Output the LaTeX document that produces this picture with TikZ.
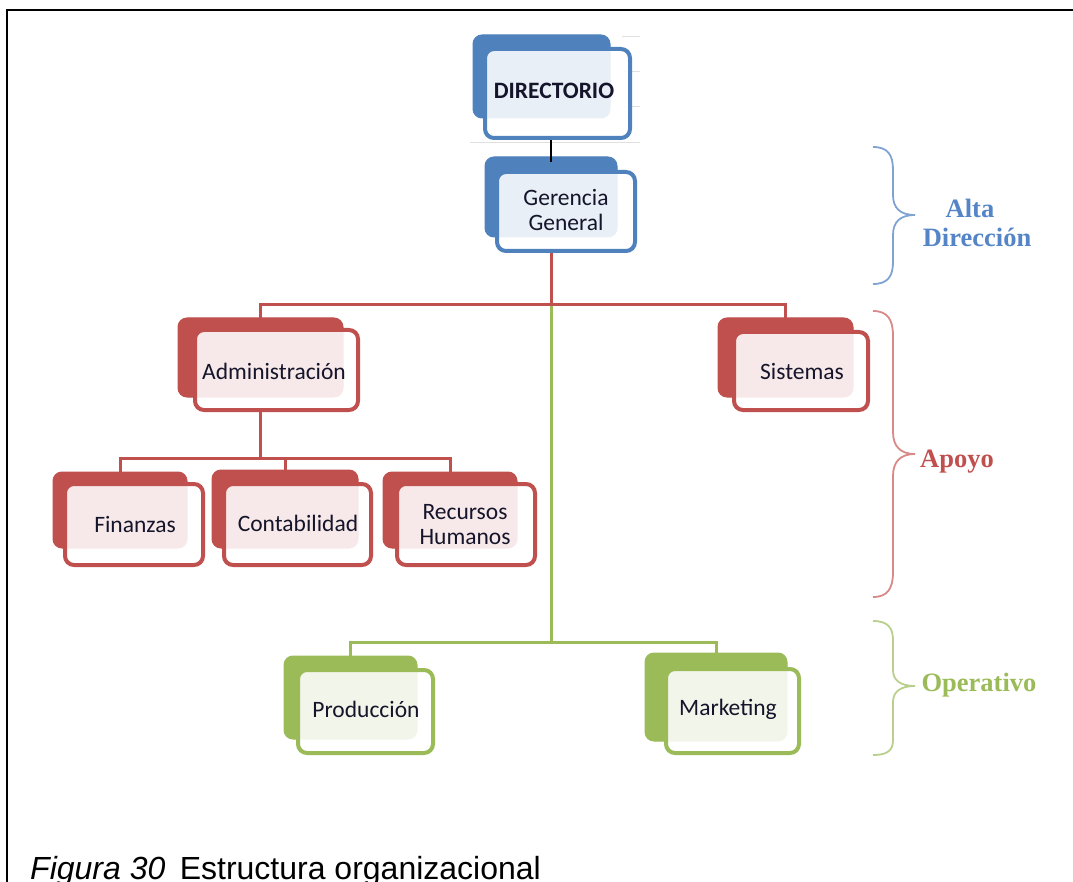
\documentclass[tikz,border=0pt]{standalone}
\usepackage{fontspec}
\setmainfont{Carlito}
\newfontfamily\serifbold{Liberation Serif}
\newfontfamily\capfont{Liberation Sans}
\usetikzlibrary{calc}
\pgfdeclarelayer{background}
\pgfsetlayers{background,main}
\definecolor{oblue}{HTML}{4F81BD}
\definecolor{ored}{HTML}{C0504D}
\definecolor{ogreen}{HTML}{9BBB59}
\definecolor{bblue}{HTML}{7FA3D2}
\definecolor{bred}{HTML}{D98A88}
\definecolor{bgreen}{HTML}{B8D08C}
\definecolor{tblue}{HTML}{5585C6}
\definecolor{txt}{HTML}{14142A}
\tikzset{
  backbox/.style={draw=#1, fill=#1, rounded corners=9pt, line width=1pt, inner sep=0pt},
  frontbox/.style={draw=#1, fill=white, fill opacity=0.88, draw opacity=1, rounded corners=9pt, line width=4pt, inner sep=0pt},
  lbl/.style={font=\fontsize{23.5}{25}\selectfont, text=txt, align=center, inner sep=0pt},
  lblbold/.style={font=\bfseries\fontsize{23.5}{25}\selectfont, text=txt, align=center, inner sep=0pt},
  redline/.style={draw=ored, line width=3pt},
  greenline/.style={draw=ogreen, line width=3pt},
  bracestyle/.style={draw=#1, line width=1.8pt},
  grouplbl/.style={font=\serifbold\bfseries\fontsize{26.5}{29}\selectfont, text=#1, inner sep=0pt, align=center},
  artifact/.style={draw=black!12, line width=1pt}
}
\begin{document}
\begin{tikzpicture}[x=1pt,y=-1pt]
\useasboundingbox (0,0) rectangle (1073,882);
% frame
\draw[line width=2pt] (7,882) -- (7,10) -- (1073,10);
% faint artifacts
\draw[artifact] (622,37) -- (640,37);
\draw[artifact] (622,72) -- (640,72);
\draw[artifact] (622,107) -- (640,107);
\draw[artifact] (470,143) -- (640,143);
% bus coordinates
\coordinate (bus1) at (551,305);
\coordinate (bus2) at (551,642);
\coordinate (bus3) at (260.5,458);
% back boxes
\node[backbox=oblue, minimum width=137pt, minimum height=83pt] (dirB) at (541.5,76.5) {};
\node[backbox=oblue, minimum width=132pt, minimum height=80pt] (gerB) at (551,197) {};
\node[backbox=ored, minimum width=165pt, minimum height=79pt] (admB) at (260.5,357.5) {};
\node[backbox=ored, minimum width=135pt, minimum height=79pt] (sisB) at (785.5,357.5) {};
\node[backbox=ored, minimum width=134pt, minimum height=76pt] (finB) at (120,510) {};
\node[backbox=ored, minimum width=146pt, minimum height=78pt] (conB) at (285,509) {};
\node[backbox=ored, minimum width=134pt, minimum height=76pt] (rrhhB) at (450,510) {};
\node[backbox=ogreen, minimum width=133pt, minimum height=83pt] (proB) at (350.5,697.5) {};
\node[backbox=ogreen, minimum width=142pt, minimum height=88pt] (mktB) at (716,697) {};
% front boxes
\node[frontbox=oblue, minimum width=145pt, minimum height=89pt] (dir) at (557.5,93.5) {};
\node[frontbox=oblue, minimum width=138pt, minimum height=79pt] (ger) at (566,211.5) {};
\node[frontbox=ored, minimum width=163pt, minimum height=80pt] (adm) at (276.5,370) {};
\node[frontbox=ored, minimum width=134pt, minimum height=78pt] (sis) at (801,371) {};
\node[frontbox=ored, minimum width=138pt, minimum height=81pt] (fin) at (134,524.5) {};
\node[frontbox=ored, minimum width=147pt, minimum height=81pt] (con) at (297.5,524.5) {};
\node[frontbox=ored, minimum width=138pt, minimum height=81pt] (rrhh) at (466,524.5) {};
\node[frontbox=ogreen, minimum width=135pt, minimum height=83pt] (pro) at (365.5,711.5) {};
\node[frontbox=ogreen, minimum width=133pt, minimum height=84pt] (mkt) at (732.5,711) {};
% labels
\node[lblbold] (dirT) at (554,91) {DIRECTORIO};
\node[lbl] (gerT) at (566,210) {Gerencia\\General};
\node[lbl] (admT) at (274,371) {Administración};
\node[lbl] (sisT) at (802,372) {Sistemas};
\node[lbl] (finT) at (135,525) {Finanzas};
\node[lbl] (conT) at (298,523) {Contabilidad};
\node[lbl] (rrhhT) at (465,524.5) {Recursos\\Humanos};
\node[lbl] (proT) at (366,709) {Producción};
\node[lbl] (mktT) at (728,709) {Marketing};
% connectors (under the boxes)
\begin{pgfonlayer}{background}
\draw[greenline] (bus1) -- (bus2) -| (proB.center);
\draw[greenline] (bus2) -| (mktB.center);
\draw[redline] (ger.south -| gerB.center) -- (bus1) -| (admB.center);
\draw[redline] (bus1) -| (sisB.center);
\draw[redline] (adm.south -| admB.center) -- (bus3) -| (finB.center);
\draw[redline] (bus3) -| (conB.center);
\draw[redline] (bus3) -| (rrhhB.center);
\end{pgfonlayer}
\coordinate (gerTop) at ($(gerB.north)+(0,6)$);
\draw[black, line width=1.3pt] (dir.south -| gerB.center) -- (gerTop -| gerB.center);
% braces
\draw[bracestyle=bblue] (873,147) .. controls (888,147) and (893,155) .. (893,170) -- (893,195) .. controls (893,208) and (900,215) .. (915,215) .. controls (900,215) and (893,222) .. (893,235) -- (893,262) .. controls (893,276) and (888,284) .. (873,284);
\draw[bracestyle=bred] (873,311) .. controls (888,311) and (893,320) .. (893,336) -- (893,432) .. controls (893,446) and (900,454) .. (915,454) .. controls (900,454) and (893,462) .. (893,476) -- (893,572) .. controls (893,588) and (888,597) .. (873,597);
\draw[bracestyle=bgreen] (873,621) .. controls (888,621) and (893,628) .. (893,640) -- (893,670) .. controls (893,680) and (900,686) .. (915,686) .. controls (900,686) and (893,692) .. (893,702) -- (893,740) .. controls (893,750) and (888,755) .. (873,755);
\node[grouplbl=tblue] (altaT) at (970,208) {Alta};
\node[grouplbl=tblue] (direcT) at (977,237) {Dirección};
\node[grouplbl=ored] (apoyoT) at (957,462) {Apoyo};
\node[grouplbl=ogreen] (operT) at (979,685) {Operativo};
% caption
\node[anchor=base west, inner sep=0pt, font=\capfont\fontsize{32}{34}\selectfont] (cap) at (30,879) {\textit{Figura 30}\hspace{0.45em}Estructura organizacional};
\end{tikzpicture}
\end{document}
